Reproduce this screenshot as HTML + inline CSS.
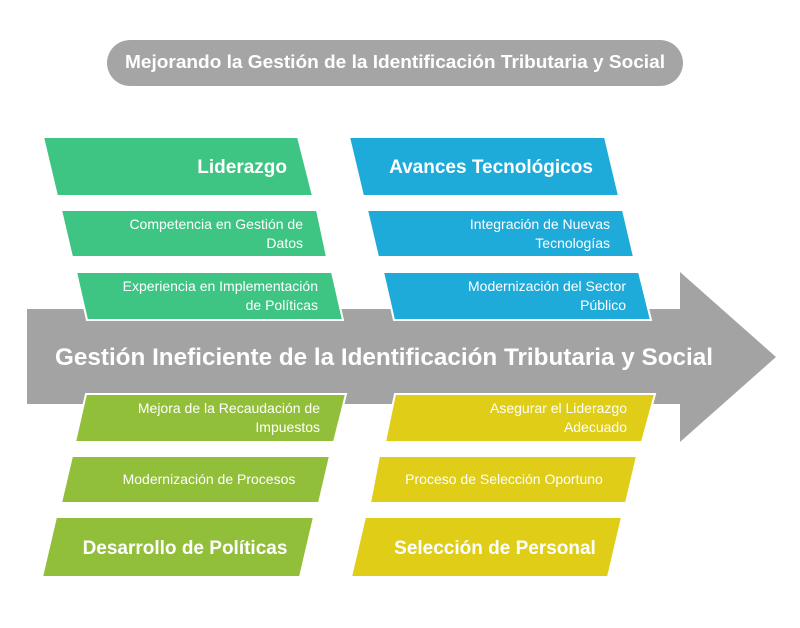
<!DOCTYPE html>
<html><head><meta charset="utf-8"><style>
html,body{margin:0;padding:0;background:#fff;}
svg{display:block;}
text{font-family:"Liberation Sans",sans-serif;fill:#fff;}
.h{font-weight:bold;font-size:19px;}
.s{font-size:14px;}
</style></head><body>
<svg width="800" height="628" viewBox="0 0 800 628">
<rect x="107" y="40" width="576" height="46" rx="23" fill="#a5a5a5"/>
<text x="395" y="68" text-anchor="middle" style="font-weight:bold;font-size:18px" textLength="540" lengthAdjust="spacingAndGlyphs">Mejorando la Gestión de la Identificación Tributaria y Social</text>

<polygon points="27,309 680,309 680,272 776,357 680,442 680,404 27,404" fill="#a3a3a3"/>

<g stroke="#fff" stroke-width="2">
<polygon points="43,137 298,137 313,196 57,196" fill="#3ec583"/>
<polygon points="61,210 317,210 327,257 72,257" fill="#3ec583"/>
<polygon points="76,272 332,272 343,320 87,320" fill="#3ec583"/>
<polygon points="349,137 605,137 619,196 363,196" fill="#1fabd9"/>
<polygon points="367,210 623,210 634,257 378,257" fill="#1fabd9"/>
<polygon points="383,272 639,272 651,320 394,320" fill="#1fabd9"/>
<polygon points="86,394 346,394 334,442 75,442" fill="#92bf3a"/>
<polygon points="72,456 330,456 319,503 61,503" fill="#92bf3a"/>
<polygon points="56,517 314,517 300,577 42,577" fill="#92bf3a"/>
<polygon points="395,394 655,394 642,442 385,442" fill="#dfcd18"/>
<polygon points="379,456 637,456 626,503 370,503" fill="#dfcd18"/>
<polygon points="365,517 622,517 608,577 351,577" fill="#dfcd18"/>
</g>

<text class="h" x="287" y="173" text-anchor="end">Liderazgo</text>
<text class="s" x="303" y="229" text-anchor="end">Competencia en Gestión de</text>
<text class="s" x="303" y="248" text-anchor="end">Datos</text>
<text class="s" x="318" y="291" text-anchor="end">Experiencia en Implementación</text>
<text class="s" x="318" y="310" text-anchor="end">de Políticas</text>

<text class="h" x="491" y="173" text-anchor="middle">Avances Tecnológicos</text>
<text class="s" x="610" y="229" text-anchor="end">Integración de Nuevas</text>
<text class="s" x="610" y="248" text-anchor="end">Tecnologías</text>
<text class="s" x="626" y="291" text-anchor="end">Modernización del Sector</text>
<text class="s" x="626" y="310" text-anchor="end">Público</text>

<text x="384" y="365" text-anchor="middle" style="font-weight:bold;font-size:24px" textLength="658" lengthAdjust="spacingAndGlyphs">Gestión Ineficiente de la Identificación Tributaria y Social</text>

<text class="s" x="320" y="413" text-anchor="end">Mejora de la Recaudación de</text>
<text class="s" x="320" y="432" text-anchor="end">Impuestos</text>
<text class="s" x="209" y="484" text-anchor="middle">Modernización de Procesos</text>
<text class="h" x="185" y="554" text-anchor="middle">Desarrollo de Políticas</text>

<text class="s" x="627" y="413" text-anchor="end">Asegurar el Liderazgo</text>
<text class="s" x="627" y="432" text-anchor="end">Adecuado</text>
<text class="s" x="504" y="484" text-anchor="middle">Proceso de Selección Oportuno</text>
<text class="h" x="495" y="554" text-anchor="middle">Selección de Personal</text>
</svg>
</body></html>
